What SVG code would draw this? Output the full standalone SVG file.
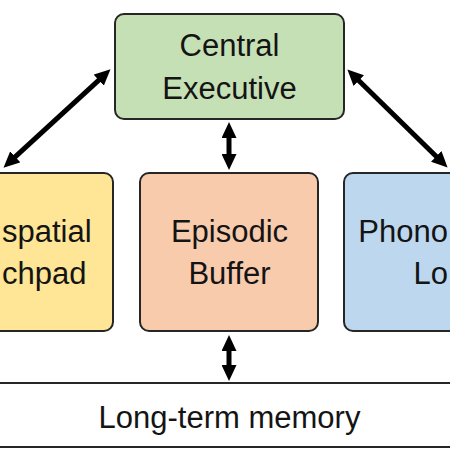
<svg xmlns="http://www.w3.org/2000/svg" width="450" height="450" viewBox="0 0 450 450">
  <defs>
    <style>
      .box { stroke: #262626; stroke-width: 2; }
      .lbl { font-family: "Liberation Sans", Arial, sans-serif; font-size: 31px; fill: #141414; }
      .mid { text-anchor: middle; }
      .arrow { stroke: #000; stroke-width: 5; fill: none; marker-start: url(#head); marker-end: url(#head); }
    </style>
    <marker id="head" viewBox="0 0 16 15" refX="2" refY="7.5" markerWidth="16" markerHeight="15" markerUnits="userSpaceOnUse" orient="auto-start-reverse">
      <path d="M0,0 L16,7.5 L0,15 Z" fill="#000"/>
    </marker>
  </defs>
  <rect width="450" height="450" fill="#fff"/>

  <g id="central-executive">
    <rect class="box" x="115" y="14" width="229" height="105" rx="9" fill="#c6e0b5"/>
    <text class="lbl mid" x="229.5" y="56">Central</text>
    <text class="lbl mid" x="229.5" y="99">Executive</text>
  </g>

  <g id="visuospatial-sketchpad">
    <rect class="box" x="-12" y="173" width="125" height="158" rx="9" fill="#ffe596"/>
    <text class="lbl" x="2" y="242">spatial</text>
    <text class="lbl" x="2" y="284" font-size="29">chpad</text>
  </g>

  <g id="episodic-buffer">
    <rect class="box" x="140" y="173" width="178" height="158" rx="9" fill="#f8cbad"/>
    <text class="lbl mid" x="229.5" y="242">Episodic</text>
    <text class="lbl mid" x="229.5" y="284">Buffer</text>
  </g>

  <g id="phonological-loop">
    <rect class="box" x="344" y="173" width="125" height="158" rx="9" fill="#bdd7ee"/>
    <text class="lbl" x="448" y="242" text-anchor="end">Phono</text>
    <text class="lbl" x="448" y="284" text-anchor="end">Lo</text>
  </g>

  <g id="long-term-memory">
    <rect class="box" x="-5" y="383" width="460" height="64" fill="#fff"/>
    <text class="lbl mid" x="229.5" y="428">Long-term memory</text>
  </g>

  <g id="connectors">
    <line class="arrow" x1="100.2" y1="78.8" x2="13.8" y2="158.2"/>
    <line class="arrow" x1="357.4" y1="79.2" x2="437.6" y2="157.8"/>
    <line class="arrow" x1="229" y1="136" x2="229" y2="156"/>
    <line class="arrow" x1="229" y1="349" x2="229" y2="367"/>
  </g>
</svg>
